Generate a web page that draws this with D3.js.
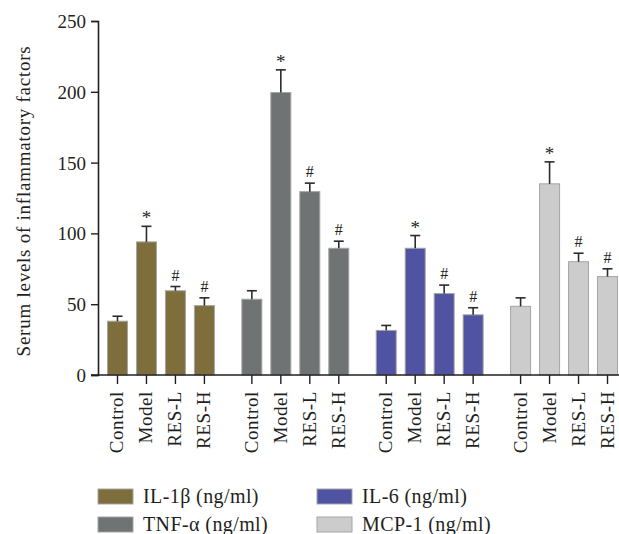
<!DOCTYPE html>
<html>
<head>
<meta charset="utf-8">
<script src="https://cdn.jsdelivr.net/npm/d3@7"></script>
<style>
  body { margin: 0; background: #fff; }
  svg { display: block; }
  text { font-family: "Liberation Serif", "Times New Roman", serif; fill: #231f20; }
</style>
</head>
<body>
<svg id="chart"></svg>
<script>
// data
var factors = ["IL-1\u03b2 (ng/ml)", "TNF-\u03b1 (ng/ml)", "IL-6 (ng/ml)", "MCP-1 (ng/ml)"];
var groups = ["Control", "Model", "RES-L", "RES-H"];
var colors = ["#7d6e3b", "#6f7373", "#4f53a1", "#cbcccb"];
var il1b = [38, 94, 59.5, 49];
var tnfa = [53.5, 199.5, 129.5, 89.5];
var il6 = [31.5, 89.5, 57.5, 42.5];
var mcp1 = [48.5, 135, 80, 69.5];
var il1bErr = [3.5, 11, 3, 5.5];
var tnfaErr = [6, 16, 6, 5];
var il6Err = [3.5, 9, 6, 5];
var mcp1Err = [6, 15.5, 6, 5.5];
var marks = ["", "*", "#", "#"];
var yTicks = [0, 50, 100, 150, 200, 250];

var width = 619, height = 534;
var svg = d3.select("#chart")
    .attr("width", width)
    .attr("height", height);

var values = [il1b, tnfa, il6, mcp1];
var errs = [il1bErr, tnfaErr, il6Err, mcp1Err];

var rows = [];
factors.forEach(function (f, fi) {
    groups.forEach(function (g, gi) {
        rows.push({ factor: f, fi: fi, group: g, gi: gi, value: values[fi][gi], err: errs[fi][gi], mark: marks[gi] });
    });
});

var y = d3.scaleLinear().domain([0, 250]).range([375, 21]);

var x0 = d3.scaleBand().domain(factors).range([103, 622]).paddingInner(0.1375);
var x1 = d3.scaleBand().domain(groups).range([0, x0.bandwidth()])
    .paddingInner(0.31).paddingOuter(0.155);

// y axis
var yAxis = svg.append("g")
    .attr("transform", "translate(98,0)")
    .call(d3.axisLeft(y).tickValues(yTicks).tickSize(7).tickPadding(5));
yAxis.selectAll("text").attr("font-size", "19px").attr("dy", "0.34em");

// y title
svg.append("text")
    .attr("transform", "translate(30,201) rotate(-90)")
    .attr("text-anchor", "middle")
    .attr("font-size", "19px")
    .attr("letter-spacing", "0.75px")
    .text("Serum levels of inflammatory factors");

// bars
var bars = svg.append("g");
bars.selectAll("rect")
    .data(rows)
    .enter().append("rect")
    .attr("x", d => x0(d.factor) + x1(d.group))
    .attr("y", d => y(d.value))
    .attr("width", x1.bandwidth())
    .attr("height", d => y(0) - y(d.value))
    .attr("fill", d => colors[d.fi])
    .attr("stroke", "#a5a5a5")
    .attr("stroke-width", 1);

// error bars
var eb = svg.append("g").attr("stroke", "#2b2b2b").attr("stroke-width", 1.6);
rows.forEach(function (d) {
    var cx = x0(d.factor) + x1(d.group) + x1.bandwidth() / 2;
    eb.append("line")
        .attr("x1", cx).attr("x2", cx)
        .attr("y1", y(d.value)).attr("y2", y(d.value + d.err));
    eb.append("line")
        .attr("x1", cx - 5).attr("x2", cx + 5)
        .attr("y1", y(d.value + d.err)).attr("y2", y(d.value + d.err));
});

// significance marks
svg.append("g").selectAll("text")
    .data(rows.filter(d => d.mark))
    .enter().append("text")
    .attr("x", d => x0(d.factor) + x1(d.group) + x1.bandwidth() / 2)
    .attr("y", d => y(d.value + d.err) - (d.mark == "*" ? 2 : 6))
    .attr("text-anchor", "middle")
    .attr("font-size", d => d.mark == "*" ? "19px" : "16px")
    .attr("fill", "#333")
    .text(d => d.mark);

// x axis
svg.append("line")
    .attr("x1", 91).attr("x2", width)
    .attr("y1", 375).attr("y2", 375)
    .attr("stroke", "#231f20").attr("stroke-width", 1.6);

var xt = svg.append("g");
rows.forEach(function (d) {
    var cx = x0(d.factor) + x1(d.group) + x1.bandwidth() / 2;
    xt.append("line")
        .attr("x1", cx).attr("x2", cx)
        .attr("y1", 375).attr("y2", 384)
        .attr("stroke", "#231f20").attr("stroke-width", 1.4);
    xt.append("text")
        .attr("transform", "translate(" + (cx + 6) + ",391) rotate(-90)")
        .attr("text-anchor", "end")
        .attr("font-size", "19px")
        .attr("letter-spacing", "0.6px")
        .text(d.group);
});

yAxis.select(".domain").attr("stroke", "#231f20").attr("stroke-width", 1.6);
yAxis.selectAll(".tick line").attr("stroke", "#231f20").attr("stroke-width", 1.4);
yAxis.selectAll(".tick text").attr("fill", "#231f20");

// legend
var legendPos = [[98, 489], [98, 517], [317, 489], [317, 517]];
var legend = svg.append("g");
factors.forEach(function (f, fi) {
    var p = legendPos[fi];
    legend.append("rect")
        .attr("x", p[0]).attr("y", p[1])
        .attr("width", 35).attr("height", 15)
        .attr("fill", colors[fi])
        .attr("stroke", "#a5a5a5").attr("stroke-width", 1);
    legend.append("text")
        .attr("x", p[0] + 45).attr("y", p[1] + 14)
        .attr("font-size", "20px")
        .attr("letter-spacing", "0.4px")
        .text(f);
});
</script>
</body>
</html>
